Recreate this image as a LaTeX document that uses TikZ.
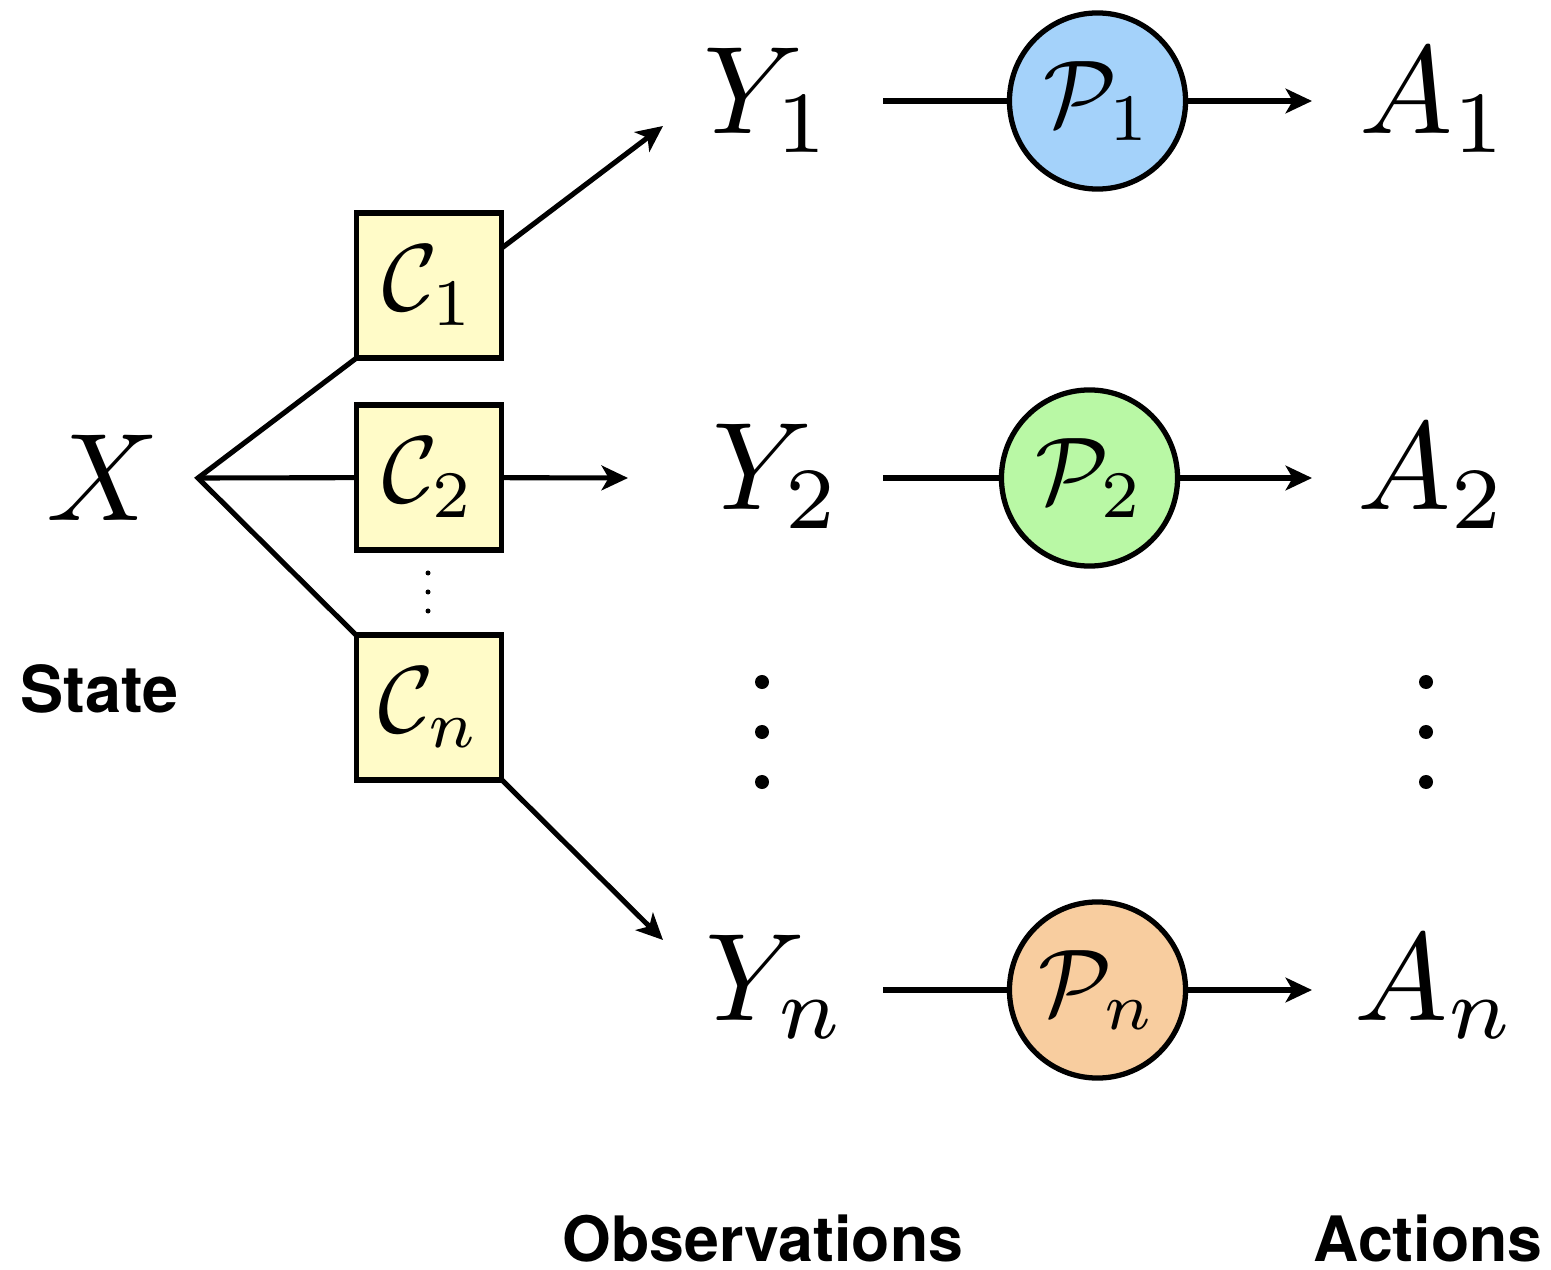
\documentclass[tikz,border=0pt]{standalone}
\usepackage{amsmath}
\usepackage{fontspec}
\usepackage{xcolor}
\usepackage{tikz}
\usetikzlibrary{positioning,calc,arrows.meta}
\newfontfamily\headfont{TeX Gyre Heros}
\definecolor{chanyellow}{HTML}{FFFBC8}
\definecolor{polblue}{HTML}{A4D2FA}
\definecolor{polgreen}{HTML}{B9F8A5}
\definecolor{polorange}{HTML}{F8CD9F}
% math set at 10pt and blown up, so the subscripts keep their small-size shapes
\newcommand{\varbig}[1]{\scalebox{3.55}{$#1$}}
\newcommand{\opbig}[1]{\scalebox{2.7}{$#1$}}

\begin{document}
\begin{tikzpicture}[
  x=0.01cm, y=-0.01cm,
  chanBox/.style ={rectangle, draw, line width=1.5pt, fill=chanyellow, minimum size=1.45cm, inner sep=0pt},
  polCirc/.style ={circle, draw, line width=1.5pt, minimum size=1.76cm, inner sep=0pt},
  bigVar/.style  ={inner sep=0pt, anchor=base west},
  headLbl/.style ={inner sep=0pt, anchor=base west, font=\headfont\bfseries\fontsize{18.4}{20}\selectfont},
  footLbl/.style ={headLbl, font=\headfont\bfseries\fontsize{17.8}{20}\selectfont},
  wire/.style={line width=1.45pt},
  arr/.style ={wire, -{Stealth[length=7.5pt, width=7pt, inset=2pt]}},
  bigDot/.style  ={circle, fill, inner sep=0pt, minimum size=0.14cm},
  smallDot/.style={circle, fill, inner sep=0pt, minimum size=0.05cm},
]
% page = reference pixels, 1px = 0.01cm
\useasboundingbox (0,0) rectangle (1551,1270);
% state and its fan-out to the channels
\node[bigVar] (x) at (46,521) {\varbig{X}};
\coordinate (j) at (198,478);
\coordinate (t1) at (663,126);
\coordinate (t2) at (628,478);
\coordinate (tn) at (663,940);
\draw[wire, {Stealth[length=7.5pt, width=7pt, inset=2pt]}-{Stealth[length=7.5pt, width=7pt, inset=2pt]}] (t1) -- (j) -- (tn);
\node[chanBox] (c1) at (429,285.5) {\opbig{\mathcal{C}_1}};
\node[chanBox] (c2) at (429,477.5) {\opbig{\mathcal{C}_2}};
\node[chanBox] (cn) at (429,707.5) {\opbig{\mathcal{C}_n}};
\draw[wire] (j) -- (c2);
\draw[arr] (c2) -- (t2);
\foreach \k in {573,592,611}
  \node[smallDot] (cd\k) at (428,\k) {};
% one row per agent: observation -> policy -> action
\foreach \i/\yl/\yb/\yx/\px/\ax/\col in {%
  1/101/134/703/1097.5/1359/polblue,
  2/478/510/712/1089.5/1357/polgreen,
  n/990/1020/705/1097.5/1354/polorange%
} {
  \node[bigVar] (y\i) at (\yx,\yb) {\varbig{Y_\i}};
  \coordinate (s\i) at (883,\yl);
  \node[polCirc, fill=\col] (p\i) at (\px,\yl) {\opbig{\mathcal{P}_\i}};
  \coordinate (e\i) at (1312,\yl);
  \draw[wire] (s\i) -- (p\i);
  \draw[arr] (p\i) -- (e\i);
  \node[bigVar] (a\i) at (\ax,\yb) {\varbig{A_\i}};
}
\foreach \k in {682,732,782} {
  \node[bigDot] (od\k) at (762,\k) {};
  \node[bigDot] (ad\k) at (1426,\k) {};
}
% column captions
\node[headLbl] (state) at (20,712) {State};
\node[footLbl] (obs) at (562,1261) {Observations};
\node[footLbl] (act) at (1313,1261) {Actions};
\end{tikzpicture}
\end{document}
